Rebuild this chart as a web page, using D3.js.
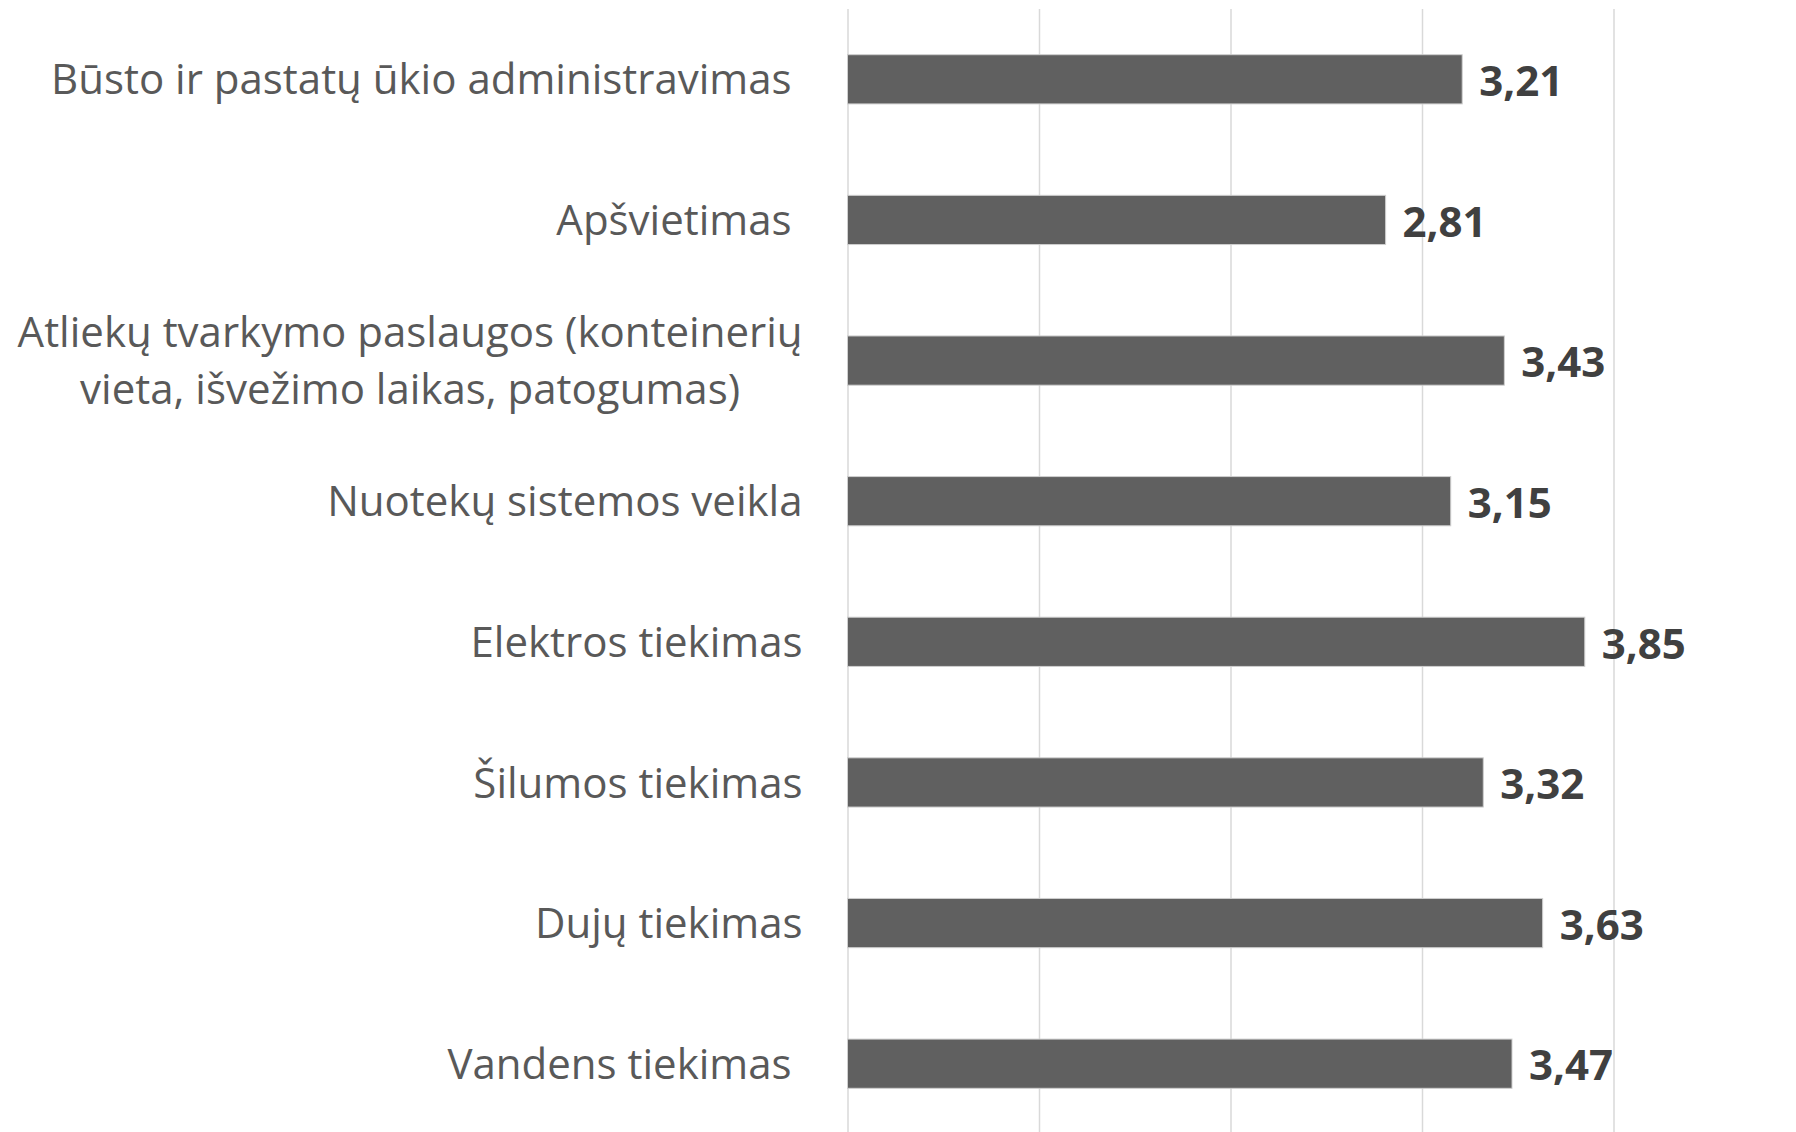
<!DOCTYPE html>
<html>
<head>
<meta charset="utf-8">
<style>
    body { margin: 0; background: #fff; }
    svg { display: block; font-family: "Open Sans", sans-serif; }
</style>
</head>
<body>
<svg id="container" width="1796" height="1132">
    <g id="grid"></g>
    <g id="bars"></g>
    <g id="labels"></g>
    <g id="values"></g>
</svg>
<script src="https://cdn.jsdelivr.net/npm/d3@7"></script>
<script>
    // categories top to bottom, trailing space kept like in the source chart
    let categories = [
        "Būsto ir pastatų ūkio administravimas ",
        "Apšvietimas ",
        "Atliekų tvarkymo paslaugos (konteinerių|vieta, išvežimo laikas, patogumas)",
        "Nuotekų sistemos veikla",
        "Elektros tiekimas",
        "Šilumos tiekimas",
        "Dujų tiekimas",
        "Vandens tiekimas "
    ]
    let values = [3.21, 2.81, 3.43, 3.15, 3.85, 3.32, 3.63, 3.47]
    let xTicks = [0, 1, 2, 3, 4]

    let data = categories.map((c, i) => ({ name: c, value: values[i] }))

    let plotTop = 9, plotBottom = 1134

    let x = d3.scaleLinear().domain([0, 4]).range([847.5, 1613.5])
    let y = d3.scaleBand().domain(categories).range([plotTop, plotBottom])
        .paddingInner(0.65).paddingOuter(0.325)

    // vertical gridlines
    let gridAxis = d3.axisBottom(x).tickValues(xTicks).tickSize(-(plotBottom - plotTop)).tickFormat("")
    let grid = d3.select("#grid")
        .attr("transform", `translate(0, ${plotBottom})`)
        .call(gridAxis)
    grid.select(".domain").remove()
    grid.selectAll("line").attr("stroke", "#d9d9d9").attr("stroke-width", 1.5)

    // bars
    d3.select("#bars").selectAll("rect")
        .data(data)
        .enter()
        .append("rect")
        .attr("x", x(0))
        .attr("y", d => y(d.name))
        .attr("width", d => x(d.value) - x(0))
        .attr("height", y.bandwidth())
        .attr("fill", "#606060")
        .attr("stroke", "#cfcfcf")
        .attr("stroke-width", 1)

    // category labels (right aligned block, lines centred on each other)
    let labelRight = x(0) - 45
    let lineH = 57
    d3.select("#labels").selectAll("text")
        .data(data)
        .enter()
        .append("text")
        .attr("fill", "#595959")
        .style("font-size", "42px")
        .style("white-space", "pre")
        .each(function (d) {
            let t = d3.select(this)
            let lines = d.name.split("|")
            let cy = y(d.name) + y.bandwidth() / 2
            lines.forEach((ln, i) => {
                t.append("tspan")
                    .attr("y", cy + (i - (lines.length - 1) / 2) * lineH)
                    .attr("dy", "0.36em")
                    .text(ln)
            })
            if (lines.length == 1) {
                t.attr("text-anchor", "end")
                t.selectAll("tspan").attr("x", labelRight)
            } else {
                let w = d3.max(t.selectAll("tspan").nodes(), n => n.getComputedTextLength())
                t.attr("text-anchor", "middle")
                t.selectAll("tspan").attr("x", labelRight - w / 2)
            }
        })

    // value labels
    let lt = d3.formatLocale({ decimal: ",", thousands: " ", grouping: [3], currency: ["", " €"] })
    let fmt = lt.format(".2f")
    d3.select("#values").selectAll("text")
        .data(data)
        .enter()
        .append("text")
        .attr("x", d => x(d.value) + 17)
        .attr("y", d => y(d.name) + y.bandwidth() / 2)
        .attr("dy", "0.4em")
        .attr("fill", "#404040")
        .style("font-size", "42px")
        .style("font-weight", "bold")
        .text(d => fmt(d.value))
</script>
</body>
</html>
